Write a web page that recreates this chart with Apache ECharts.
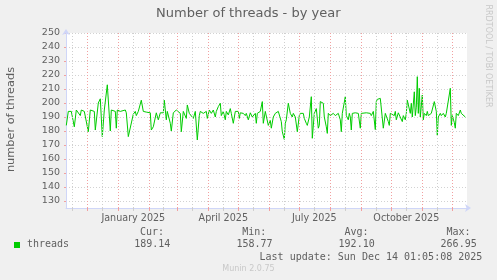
<!DOCTYPE html>
<html><head><meta charset="utf-8">
<script src="https://cdn.jsdelivr.net/npm/echarts@6/dist/echarts.min.js"></script>
<style>html,body{margin:0;padding:0;background:#f0f0f0}#c{width:497px;height:280px}</style>
</head><body><div id="c"></div>
<script>
// ---- data ----
const startDate = '2024-11-09';           // day 0 of dayOffsets
const dayOffsets = [1,3,5,6,9,11,12,15,16,19,21,23,25,29,30,33,35,37,39,40,42,43,45,46,50,51,52,55,60,61,63,65,68,70,71,73,76,78,81,85,86,88,91,93,95,98,99,
101,102,104,105,106,108,111,115,116,118,120,121,122,124,126,128,130,132,134,135,138,141,142,144,146,148,150,151,153,155,156,158,160,161,163,165,166,168,170,171,173,174,175,178,180,181,183,185,187,190,191,192,195,197,198,
200,201,203,205,206,208,210,213,215,216,217,219,220,221,223,224,225,227,228,230,231,232,234,235,237,238,239,241,242,244,245,246,247,249,250,251,253,254,255,257,258,259,261,262,263,265,266,268,270,271,273,275,276,277,278,280,281,283,284,285,286,287,290,293,295,296,298,
301,305,306,308,310,311,312,314,315,317,318,319,320,321,323,324,325,326,327,329,330,331,333,334,335,337,338,340,341,342,344,345,346,347,349,350,351,352,353,354,355,357,358,359,361,362,363,365,366,368,369,371,372,373,375,376,378,380,381,383,385,386,387,389,390,391,393,395,396,398,400];
const threads = [184,194,195,194,183,195,194,191,195,194,195,179.5,195,194,180.7,200,203,176,195,194,213,212,180,195,194,182,195,194,195,193,176,175,192,194,191,194,202,194,193.5,193,180.7,183,193,188,193,193,202,
188,194,192.6,185.5,180,193,195,192.6,179.5,194,195,189,198.6,192.6,194,189,194,173.6,191,194,192.6,194,189,195,192.6,195,190,194,197.4,199.8,191,194,188,194,191.5,196,192.6,185.5,194,192.6,194,189,193,192.6,191,192.6,188,193,190,192.6,185.5,192.6,194,201,185.5,
194,192.6,184,187.5,182,190,192.6,194,192.6,186.7,179.5,174,185.5,188,199.8,201,192.6,190,192.6,190,189,179.5,191,192.6,194,192.6,189,185.5,184,190,191,204.5,174.8,192.6,192.6,196,182,184,201,202,199.8,190,183,178.3,192.6,191,190,192.6,191,190,192.6,188,179.5,192.6,194,204.5,191,188,192.6,190,180.7,192.6,193,192.6,182,192.6,193,
193,192.6,191,194,181,201,202.6,202.6,203.3,202,182,183,192.6,194,186.7,184,192.6,193,192.6,191,194,188,193,192.6,193,186.7,191,188,192.6,202,201,192.6,199.8,190,208,191,197,218.8,192.6,210.5,190,205.7,188,192.6,191,194,191,190,192.6,194,201,194,177,190,192.6,191,192.6,190,192.6,192.6,210.5,184,191,186,182,192.6,191,195,192.6,194,190];
const monthStarts = ['2024-12-01','2025-01-01','2025-02-01','2025-03-01','2025-04-01','2025-05-01','2025-06-01','2025-07-01','2025-08-01','2025-09-01','2025-10-01','2025-11-01','2025-12-01'];
const midMonths = ['2024-11-16','2024-12-16','2025-01-16','2025-02-15','2025-03-16','2025-04-16','2025-05-16','2025-06-16','2025-07-16','2025-08-16','2025-09-16','2025-10-16','2025-11-16'];
const xLabelDates = ['2025-01-16','2025-04-16','2025-07-16','2025-10-16'];
const xLabels = ['January 2025','April 2025','July 2025','October 2025'];
const yMajorTicks = [130,140,150,160,170,180,190,200,210,220,230,240,250];
const seriesName = 'threads';
const statNames = ['Cur:','Min:','Avg:','Max:'];
const statValues = ['189.14','158.77','192.10','266.95'];
const titleText = 'Number of threads - by year';
const yName = 'number of threads';
const lastUpdate = 'Last update: Sun Dec 14 01:05:08 2025';

// ---- build ----
const DAY = 86400000;
const t0 = Date.parse(startDate);
const xMin = t0 + 0.7 * DAY;
const xMax = xMin + 401 * DAY;
const data = dayOffsets.map((d, i) => [t0 + d * DAY, threads[i]]);
const xLabelTs = xLabelDates.map(Date.parse);
const TXT = '#606060';
const SANS = '"DejaVu Sans"';
const MONO = '"DejaVu Sans Mono"';

function txt(text, x, y, font, fill, align, rot) {
  return {type: 'text', x: x, y: y, rotation: rot || 0, silent: true,
    style: {text: text, font: font, fill: fill, align: align, textAlign: align,
      verticalAlign: 'middle', textVerticalAlign: 'middle'}};
}

const vLines = monthStarts.map(d => ({xAxis: Date.parse(d), lineStyle: {color: '#f2a0a0', type: [1, 2], width: 1}}))
  .concat(midMonths.map(d => ({xAxis: Date.parse(d), lineStyle: {color: '#cfcfcf', type: [1, 2], width: 1}})));

const colX = [170.3, 272.5, 374.7, 476.7];
const graphics = [
  txt(titleText, 248.3, 13.5, '13px ' + SANS, TXT, 'center'),
  txt(yName, 11, 119.5, '11.3px ' + SANS, TXT, 'center', Math.PI / 2),
  txt('RRDTOOL / TOBI OETIKER', 488, 56, '8px ' + SANS, '#c8c8c8', 'center', -Math.PI / 2),
  {type: 'rect', shape: {x: 14, y: 242, width: 6, height: 6}, style: {fill: '#00cc00'}, silent: true},
  txt(seriesName, 27, 244.8, '10px ' + MONO, TXT, 'left'),
  txt(lastUpdate, 482.3, 257, '10px ' + MONO, TXT, 'right'),
  txt('Munin 2.0.75', 248.5, 268.5, '8px ' + SANS, '#c8c8c8', 'center')
];
statNames.forEach((n, i) => {
  graphics.push(txt(n, colX[i] - 6.2, 232.5, '10px ' + MONO, TXT, 'right'));
  graphics.push(txt(statValues[i], colX[i], 244.8, '10px ' + MONO, TXT, 'right'));
});

const chart = echarts.init(document.getElementById('c'), null, {renderer: 'canvas'});
chart.setOption({
  backgroundColor: '#f0f0f0',
  animation: false,
  grid: {left: 66, top: 33, width: 401, height: 175, show: true, backgroundColor: '#ffffff', borderWidth: 0},
  xAxis: [{
    type: 'value', min: xMin, max: xMax, scale: true,
    axisLine: {show: true, lineStyle: {color: '#cfd6f8', width: 1}, symbol: ['none', 'arrow'], symbolSize: [6, 6], symbolOffset: [0, 4]},
    axisTick: {show: true, customValues: monthStarts.map(Date.parse), length: 3, lineStyle: {color: '#f2a0a0'}},
    axisLabel: {show: true, customValues: xLabelTs, formatter: v => xLabels[xLabelTs.indexOf(v)] || '',
      fontSize: 9.6, fontFamily: 'DejaVu Sans', color: TXT, margin: 5, hideOverlap: false},
    splitLine: {show: false}
  }, {
    type: 'value', min: xMin, max: xMax, scale: true, position: 'bottom',
    axisLine: {show: false},
    axisTick: {show: true, customValues: midMonths.map(Date.parse), length: 3, lineStyle: {color: '#cfcfcf'}},
    axisLabel: {show: false}, splitLine: {show: false}
  }],
  yAxis: {
    type: 'value', min: 125, max: 250, interval: 5,
    axisLine: {show: true, lineStyle: {color: '#cfd6f8', width: 1}, symbol: ['none', 'arrow'], symbolSize: [6, 6], symbolOffset: [0, 4]},
    axisTick: {show: true, customValues: yMajorTicks, length: 2, lineStyle: {color: '#f2a0a0'}},
    axisLabel: {formatter: v => (v % 10 === 0 ? String(v) : ''), fontSize: 9.5, fontFamily: 'DejaVu Sans', color: TXT, margin: 6},
    splitLine: {show: true, lineStyle: {color: '#d2d2d2', type: [1, 2], width: 1}}
  },
  series: [{
    type: 'line', data: data, xAxisIndex: 0, z: 1, symbol: 'none', silent: true,
    lineStyle: {opacity: 0},
    markLine: {silent: true, symbol: ['none', 'none'], label: {show: false}, data: vLines, animation: false}
  }, {
    name: seriesName, type: 'line', data: data, xAxisIndex: 0, z: 3, symbol: 'none', showSymbol: false,
    lineStyle: {color: '#00cc00', width: 1}
  }],
  graphic: graphics
});
</script></body></html>
